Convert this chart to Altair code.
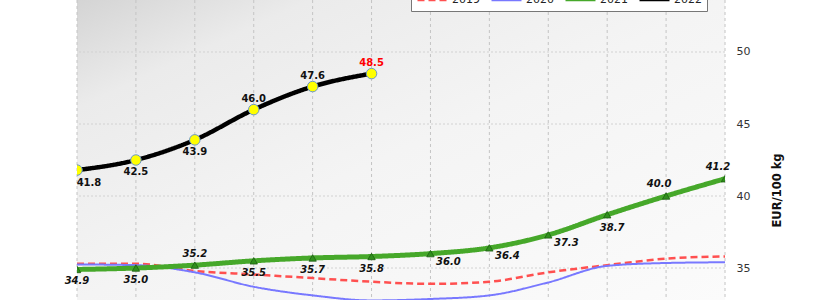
import altair as alt
import pandas as pd

months = ["Jan", "Feb", "Mar", "Apr", "May", "Jun", "Jul", "Aug", "Sep", "Oct", "Nov", "Dec"]
years = ["2019", "2020", "2021", "2022"]
v2019 = [35.3, 35.3, 34.8, 34.55, 34.3, 34.05, 33.9, 34.05, 34.7, 35.2, 35.65, 35.8]
v2020 = [35.25, 35.2, 34.7, 33.7, 33.1, 32.75, 32.85, 33.1, 34.0, 35.15, 35.35, 35.4]
v2021 = [34.9, 35.0, 35.2, 35.5, 35.7, 35.8, 36.0, 36.4, 37.3, 38.7, 40.0, 41.2]
v2022 = [41.8, 42.5, 43.9, 46.0, 47.6, 48.5]
y_ticks = [35, 40, 45, 50]

series = {"2019": v2019, "2020": v2020, "2021": v2021, "2022": v2022}
rows = []
for yr, vals in series.items():
    for m, v in zip(months, vals):
        rows.append({"year": yr, "month": m, "value": v})
df = pd.DataFrame(rows)
df21 = df[df.year == "2021"]
df22 = df[df.year == "2022"]

Y_DOMAIN = [32.78, 53.61]
xs = alt.Scale(type="point", padding=0, domain=months)
ys = alt.Scale(domain=Y_DOMAIN, nice=False, zero=False)

X = alt.X("month:N", scale=xs, axis=None, sort=months)
Y = alt.Y("value:Q", scale=ys,
          axis=alt.Axis(orient="right", values=y_ticks, grid=False, ticks=False, domain=False,
                        labelFontSize=11, labelColor="#333333", labelPadding=11,
                        title="EUR/100 kg", titleFontSize=11.5, titleFontWeight="bold",
                        titleColor="#111111", titleAngle=270, titleX=55, titleY=190,
                        titleBaseline="alphabetic"))

bg_df = pd.DataFrame({"a": [months[0]], "b": [months[-1]], "lo": [Y_DOMAIN[0]], "hi": [Y_DOMAIN[1]]})
background = alt.Chart(bg_df).mark_rect(
    color=alt.LinearGradient(
        gradient="linear",
        stops=[alt.GradientStop(color="#d4d4d4", offset=0),
               alt.GradientStop(color="#ebebeb", offset=0.18),
               alt.GradientStop(color="#f4f4f4", offset=0.5),
               alt.GradientStop(color="#fbfbfb", offset=1)],
        x1=0, y1=0, x2=1, y2=1)
).encode(x=alt.X("a:N", scale=xs, axis=None), x2="b:N",
         y=alt.Y("lo:Q", scale=ys), y2="hi:Q")

vgrid = alt.Chart(pd.DataFrame({"month": months})).mark_rule(
    color="#c4c4c4", strokeDash=[3, 3], strokeWidth=1).encode(x=alt.X("month:N", scale=xs, axis=None))
hgrid = alt.Chart(pd.DataFrame({"value": y_ticks})).mark_rule(
    color="#d2d2d2", strokeDash=[2, 2], strokeWidth=1).encode(y=alt.Y("value:Q", scale=ys))

color_enc = alt.Color("year:N", scale=alt.Scale(domain=years, range=["#ff5050", "#7878ff", "#46a82a", "#000000"]),
                      legend=alt.Legend(title=None))
dash_enc = alt.StrokeDash("year:N", scale=alt.Scale(domain=years, range=[[7, 4], [1, 0], [1, 0], [1, 0]]),
                          legend=alt.Legend(title=None))
widths = {"2019": 2.5, "2020": 2, "2021": 5, "2022": 4.5}

def line_layer(yr):
    return alt.Chart(df).transform_filter(alt.datum.year == yr).mark_line(
        interpolate="monotone", clip=True, strokeWidth=widths[yr]
    ).encode(x=X, y=Y, color=color_enc, strokeDash=dash_enc)

line_layers = [line_layer(yr) for yr in years]

tri = alt.Chart(df21).mark_point(shape="triangle-up", filled=True, size=55, fill="#2f8f1c",
                                 stroke="#1d5e12", strokeWidth=0.8, opacity=1, clip=True).encode(x=X, y=Y)
circ = alt.Chart(df22).mark_point(shape="circle", filled=True, size=110, fill="#ffff00",
                                  stroke="#6b98c8", strokeWidth=1, opacity=1, clip=True).encode(x=X, y=Y)

def labels(data, months_sel, dx, dy, italic, color_last=False):
    mk = alt.Chart(data).transform_filter(
        alt.FieldOneOfPredicate(field="month", oneOf=months_sel)
    ).mark_text(font="DejaVu Sans", fontSize=10, fontWeight="bold",
                fontStyle="italic" if italic else "normal", dx=dx, dy=dy)
    enc = dict(x=X, y=Y, text=alt.Text("value:Q", format=".1f"))
    if color_last:
        enc["color"] = alt.condition(alt.datum.month == months[len(v2022) - 1],
                                     alt.value("#ff0000"), alt.value("#111111"))
    else:
        enc["color"] = alt.value("#111111")
    return mk.encode(**enc)

t21_below = labels(df21, ["Jan", "Feb", "Apr", "May", "Jun"], 0, 12, True)
t21_below2 = labels(df21, ["Oct"], 5, 13, True)
t21_right = labels(df21, ["Jul", "Aug", "Sep"], 18, 8, True)
t21_above = labels(df21, ["Mar"], 0, -11, True)
t21_aboveleft = labels(df21, ["Nov", "Dec"], -7, -12, True)
t22_first = labels(df22, ["Jan"], 12, 13, False, True)
t22_below = labels(df22, ["Feb", "Mar"], 0, 12, False, True)
t22_above = labels(df22, ["Apr", "May", "Jun"], 0, -11, False, True)

chart = alt.layer(
    background, vgrid, hgrid, *line_layers, tri, circ,
    t21_below, t21_below2, t21_right, t21_above, t21_aboveleft, t22_first, t22_below, t22_above,
).properties(
    width=648, height=300,
    padding={"left": 77, "top": 0, "right": 105, "bottom": 0},
    autosize=alt.AutoSizeParams(type="none"),
).configure(
    font="DejaVu Sans",
).configure_view(
    stroke=None,
).configure_legend(
    orient="none", legendX=334, legendY=-12, direction="horizontal",
    fillColor="#ffffff", strokeColor="#777777", padding=5, cornerRadius=0,
    symbolType="M-1,0L5,0", symbolSize=100, symbolStrokeWidth=3,
    labelFontSize=11, labelColor="#222222", labelOffset=23, columnPadding=5,
)

chart.save("out.html", embed_options={"renderer": "svg", "actions": False})
